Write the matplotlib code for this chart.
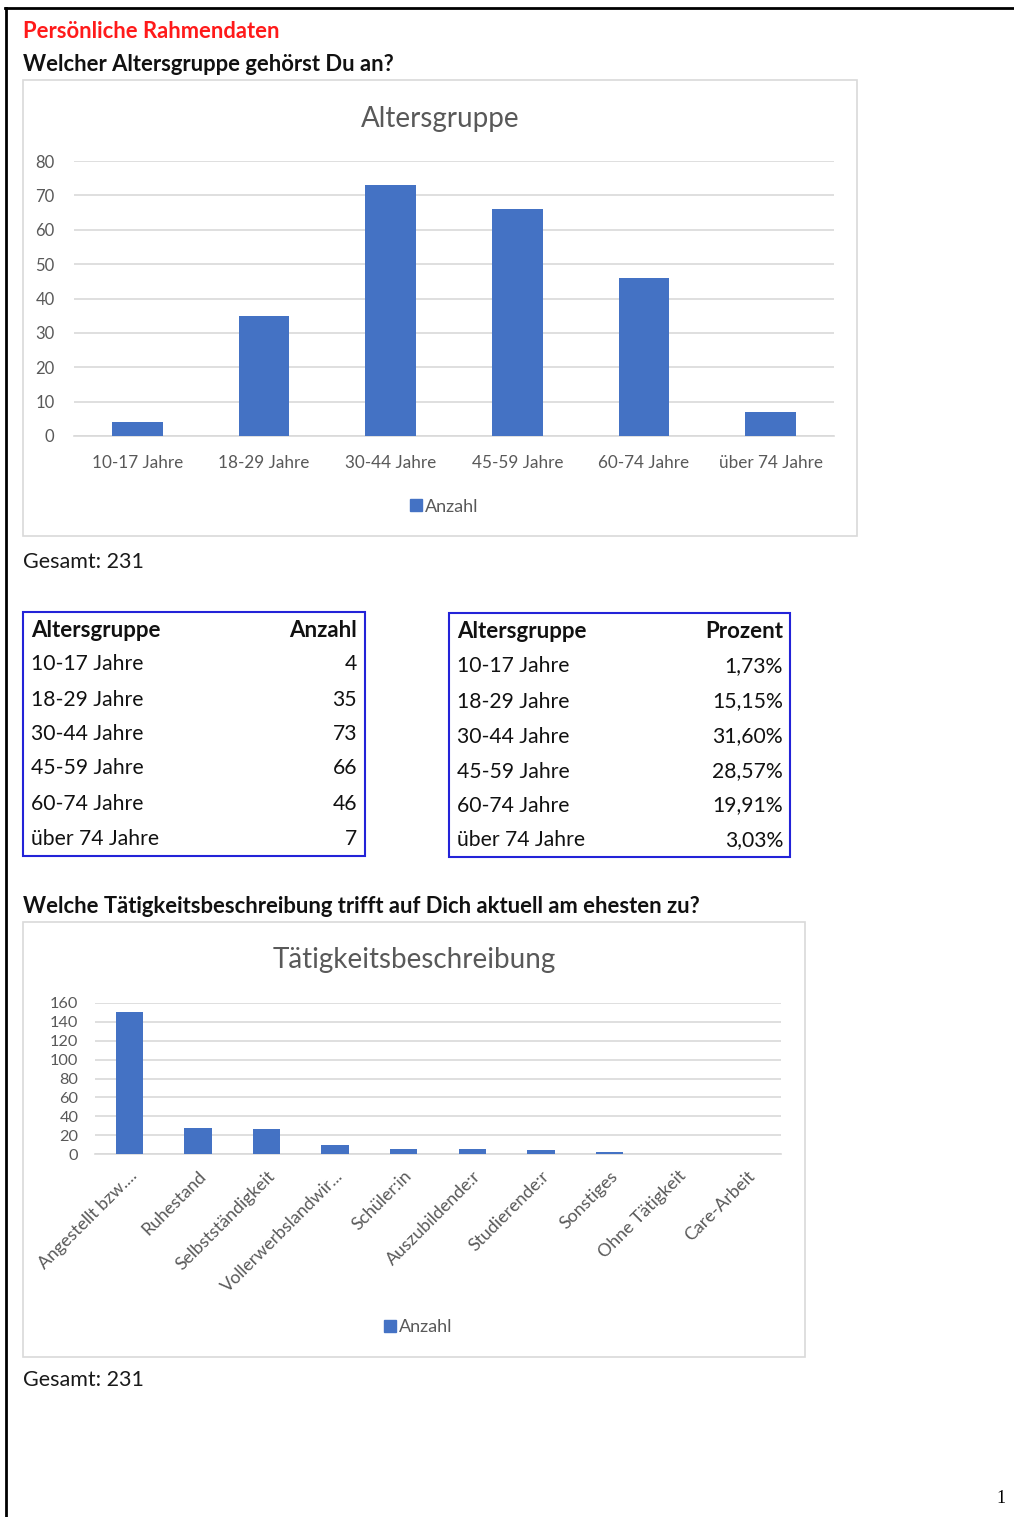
import matplotlib
matplotlib.use("Agg")
import matplotlib.pyplot as plt
from matplotlib.patches import Rectangle
from matplotlib.lines import Line2D

# ---------------- data ----------------
age_groups = ['10-17 Jahre', '18-29 Jahre', '30-44 Jahre', '45-59 Jahre', '60-74 Jahre', 'über 74 Jahre']
age_counts = [4, 35, 73, 66, 46, 7]
age_total = 231
age_yticks = [0, 10, 20, 30, 40, 50, 60, 70, 80]

activity_labels = ['Angestellt bzw....', 'Ruhestand', 'Selbstständigkeit', 'Vollerwerbslandwir...',
                   'Schüler:in', 'Auszubildende:r', 'Studierende:r', 'Sonstiges',
                   'Ohne Tätigkeit', 'Care-Arbeit']
activity_counts = [150, 28, 26, 10, 5, 5, 4, 2, 0, 0]
activity_total = 231
activity_yticks = [0, 20, 40, 60, 80, 100, 120, 140, 160]

# ---------------- styling ----------------
W, H = 1014, 1517
FONT = 'Lato'
BAR = '#4472c4'
GRID = '#d9d9d9'
AXTXT = '#595959'
TBL = '#2323d8'

fig = plt.figure(figsize=(W / 100, H / 100), dpi=100)
fig.patch.set_facecolor('white')


def fx(x):
    return x / W


def fy(y):
    return 1 - y / H


def box(x0, y0, x1, y1):
    return [fx(x0), fy(y1), fx(x1) - fx(x0), fy(y0) - fy(y1)]


def text(x, y, s, **kw):
    kw.setdefault('family', FONT)
    kw.setdefault('va', 'center')
    fig.text(fx(x), fy(y + 1.5), s, **kw)


def rect(x0, y0, x1, y1, color, lw):
    fig.patches.append(Rectangle((fx(x0), fy(y1)), fx(x1) - fx(x0), fy(y0) - fy(y1),
                                 transform=fig.transFigure, fill=False,
                                 edgecolor=color, linewidth=lw))


# page border (top and left)
fig.lines.append(Line2D([fx(5), fx(1014)], [fy(8), fy(8)], transform=fig.transFigure,
                        color='black', linewidth=2))
fig.lines.append(Line2D([fx(5.5), fx(5.5)], [fy(8), fy(1517)], transform=fig.transFigure,
                        color='black', linewidth=2))

# headings
text(23, 30, 'Persönliche Rahmendaten', color='#ff1a1a', fontsize=15.8, weight='bold')
text(23, 63, 'Welcher Altersgruppe gehörst Du an?', color='#111111', fontsize=15.8, weight='bold')


def bar_chart(frame, plot, title, title_y, cats, vals, yticks, legend_y, rotate=False,
              tick_fs=12, xfs=12, ypad=12):
    rect(*frame, GRID, 1.2)
    ax = fig.add_axes(box(*plot))
    x = list(range(len(cats)))
    ax.bar(x, vals, width=0.4, color=BAR, zorder=3)
    ax.set_xlim(-0.5, len(cats) - 0.5)
    ax.set_ylim(yticks[0], yticks[-1])
    ax.set_yticks(yticks)
    ax.yaxis.grid(True, color=GRID, linewidth=1.2, zorder=0)
    for s in ['top', 'right', 'left']:
        ax.spines[s].set_visible(False)
    ax.spines['bottom'].set_color(GRID)
    ax.spines['bottom'].set_linewidth(1.2)
    ax.tick_params(axis='both', length=0, colors=AXTXT)
    ax.tick_params(axis='y', pad=ypad)
    for lab in ax.get_yticklabels():
        lab.set_family(FONT)
        lab.set_fontsize(tick_fs)
    ax.set_xticks(x)
    if rotate:
        ax.set_xticklabels(cats, rotation=45, ha='right', rotation_mode='anchor',
                           family=FONT, fontsize=xfs, color=AXTXT)
        ax.tick_params(axis='x', pad=10)
    else:
        ax.set_xticklabels(cats, family=FONT, fontsize=xfs, color=AXTXT)
        ax.tick_params(axis='x', pad=14)
    cx = (frame[0] + frame[2]) / 2
    text(cx, title_y, title, color=AXTXT, fontsize=20, ha='center')
    fig.patches.append(Rectangle((fx(cx - 30), fy(legend_y + 6)), fx(12), fy(legend_y - 6) - fy(legend_y + 6),
                                 transform=fig.transFigure, color=BAR))
    text(cx - 15, legend_y, 'Anzahl', color=AXTXT, fontsize=13)
    return ax


# chart 1
bar_chart((23, 80, 857, 536), (74, 161, 834, 436), 'Altersgruppe', 117,
          age_groups, age_counts, age_yticks, 505, rotate=False, tick_fs=12, xfs=12.3, ypad=14)
text(23, 560, f'Gesamt: {age_total}', color='#1a1a1a', fontsize=15.5)

# tables
row_y1 = [629, 663, 698, 732, 767, 802, 837]
row_y2 = [630, 665, 700, 735, 770, 804, 839]
rect(23, 612, 365, 856, TBL, 1.5)
rect(449, 613, 790, 857, TBL, 1.5)
HB = 16
HR = 15.2
text(31, row_y1[0], 'Altersgruppe', weight='bold', fontsize=HB, color='#111111')
text(357, row_y1[0], 'Anzahl', weight='bold', fontsize=HB, color='#111111', ha='right')
text(457, row_y2[0], 'Altersgruppe', weight='bold', fontsize=HB, color='#111111')
text(783, row_y2[0], 'Prozent', weight='bold', fontsize=HB, color='#111111', ha='right')
for i, (g, c) in enumerate(zip(age_groups, age_counts)):
    text(31, row_y1[i + 1], g, fontsize=HR, color='#111111')
    text(357, row_y1[i + 1], str(c), fontsize=HR, color='#111111', ha='right')
    pct = f'{100 * c / age_total:.2f}%'.replace('.', ',')
    text(457, row_y2[i + 1], g, fontsize=HR, color='#111111')
    text(783, row_y2[i + 1], pct, fontsize=HR, color='#111111', ha='right')

# chart 2
text(23, 905, 'Welche Tätigkeitsbeschreibung trifft auf Dich aktuell am ehesten zu?',
     color='#111111', fontsize=15.8, weight='bold')
bar_chart((23, 922, 805, 1357), (95, 1003, 781, 1154), 'Tätigkeitsbeschreibung', 959,
          activity_labels, activity_counts, activity_yticks, 1326, rotate=True,
          tick_fs=11.7, xfs=12.8, ypad=12)
text(23, 1379, f'Gesamt: {activity_total}', color='#1a1a1a', fontsize=15.5)

# page number
text(1001, 1497, '1', family='Liberation Serif', fontsize=13, color='black', ha='center')

fig.savefig('out.png', dpi=100, facecolor='white')
